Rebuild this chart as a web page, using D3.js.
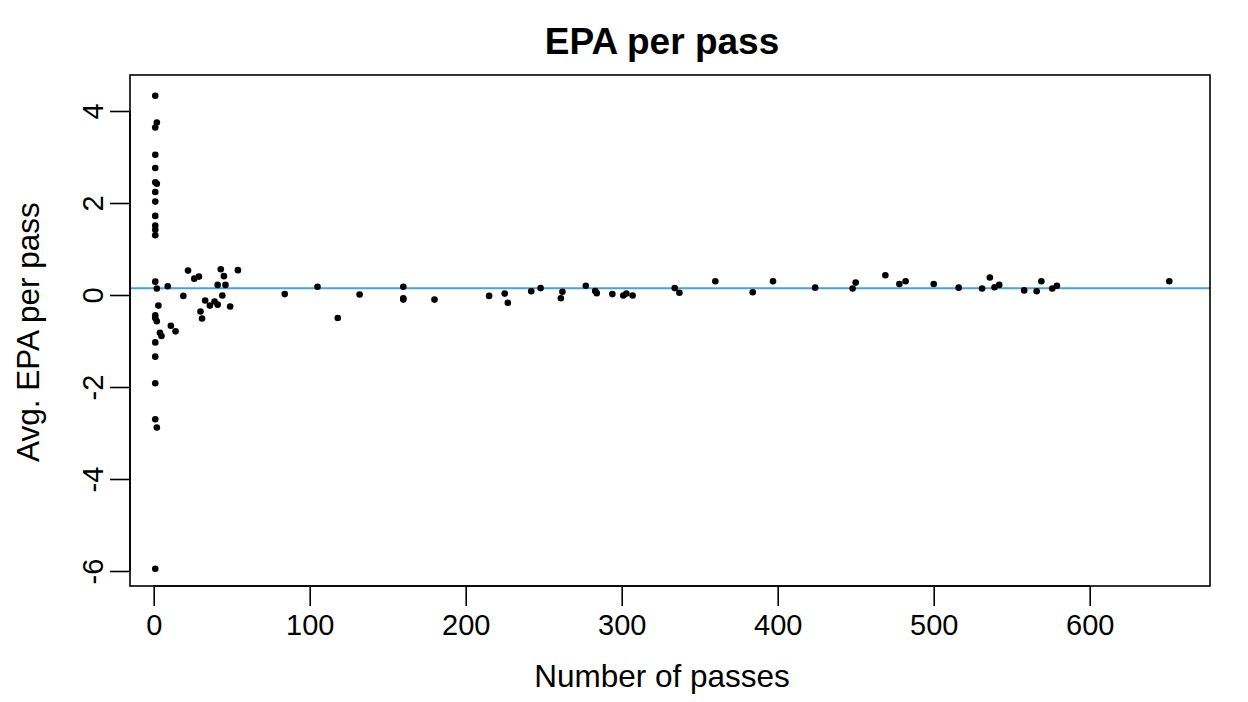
<!DOCTYPE html>
<html>
<head>
<meta charset="utf-8">
<script src="https://cdn.jsdelivr.net/npm/d3@7"></script>
<style>
  html, body { margin: 0; padding: 0; background: #fff; }
  svg { display: block; font-family: "Liberation Sans", Arial, Helvetica, sans-serif; }
</style>
</head>
<body>
<svg id="chart" width="1248" height="702"></svg>
<script>
// ---- data ----
const passes = [
  1, 2, 1, 1, 1, 1, 2, 1, 1, 1, 1, 1, 1,
  22, 43, 54, 45, 26, 29, 1, 41, 46, 2, 9, 19, 44, 3, 33, 36, 39, 41, 49, 30, 31,
  1, 1, 2, 11, 14, 4, 5, 1, 1, 1, 1, 2, 1,
  84, 105, 118, 132, 160, 160, 160, 180, 215, 225, 227, 242, 248, 262, 261, 277,
  283, 284, 294, 301, 303, 307, 334, 337, 360, 384, 397, 424, 448, 450, 469,
  478, 482, 500, 516, 531, 536, 539, 542, 558, 566, 569, 576, 579, 651
];
const epa = [
  4.33, 3.75, 3.64, 3.05, 2.76, 2.45, 2.42, 2.24, 2.03, 1.72, 1.51, 1.42, 1.30,
  0.53, 0.56, 0.54, 0.41, 0.355, 0.40, 0.29, 0.22, 0.22, 0.14, 0.19, -0.02, -0.01, -0.23, -0.12, -0.23, -0.14, -0.21, -0.25, -0.36, -0.51,
  -0.44, -0.50, -0.57, -0.67, -0.79, -0.82, -0.89, -1.03, -1.34, -1.92, -2.70, -2.88, -5.95,
  0.02, 0.18, -0.50, 0.01, 0.18, -0.07, -0.10, -0.10, -0.02, 0.03, -0.17, 0.08, 0.15, 0.07, -0.07, 0.20,
  0.085, 0.04, 0.02, -0.01, 0.03, -0.01, 0.15, 0.05, 0.30, 0.06, 0.30, 0.16, 0.14, 0.27, 0.43,
  0.24, 0.30, 0.24, 0.16, 0.14, 0.38, 0.17, 0.22, 0.10, 0.08, 0.30, 0.14, 0.20, 0.30
];
const meanLine = 0.145;
const xTicks = [0, 100, 200, 300, 400, 500, 600];
const yTicks = [-6, -4, -2, 0, 2, 4];
const titleText = "EPA per pass";
const xLabel = "Number of passes";
const yLabel = "Avg. EPA per pass";

// ---- layout ----
const box = { left: 130, right: 1210, top: 75, bottom: 586 };
const x = d3.scaleLinear().domain([0, 600]).range([153.7, 1089.7]);
const y = d3.scaleLinear().domain([-6, 4]).range([571, 111]);

const svg = d3.select("#chart");

svg.append("clipPath").attr("id", "clip")
  .append("rect").attr("x", box.left).attr("y", box.top)
  .attr("width", box.right - box.left).attr("height", box.bottom - box.top);

// mean line
svg.append("line")
  .attr("clip-path", "url(#clip)")
  .attr("x1", box.left).attr("x2", box.right)
  .attr("y1", y(meanLine)).attr("y2", y(meanLine))
  .attr("stroke", "#46a2e0").attr("stroke-width", 2);

// points
svg.append("g").selectAll("circle")
  .data(passes.map((p, i) => [p, epa[i]]))
  .join("circle")
  .attr("cx", d => x(d[0]))
  .attr("cy", d => y(d[1]))
  .attr("r", 3.3)
  .attr("fill", "#000");

// box
svg.append("rect")
  .attr("x", box.left).attr("y", box.top)
  .attr("width", box.right - box.left).attr("height", box.bottom - box.top)
  .attr("fill", "none").attr("stroke", "#000").attr("stroke-width", 1.6);

const fmt = d => String(d);

// x axis
const xAxis = d3.axisBottom(x).tickValues(xTicks).tickSize(20).tickPadding(8).tickFormat(fmt);
const gx = svg.append("g").attr("transform", `translate(0,${box.bottom})`).call(xAxis);
gx.select(".domain").attr("d", `M${x(0)},0H${x(600)}`).attr("stroke-width", 1.6);
gx.selectAll(".tick line").attr("stroke-width", 1.6);
gx.selectAll(".tick text").attr("font-size", 29).attr("fill", "#000")
  .attr("font-family", "Liberation Sans, Arial, sans-serif");

// y axis
const yAxis = d3.axisLeft(y).tickValues(yTicks).tickSize(20).tickPadding(8).tickFormat(fmt);
const gy = svg.append("g").attr("transform", `translate(${box.left},0)`).call(yAxis);
gy.select(".domain").attr("d", `M0,${y(-6)}V${y(4)}`).attr("stroke-width", 1.6);
gy.selectAll(".tick line").attr("stroke-width", 1.6);
gy.selectAll(".tick text")
  .attr("font-size", 29).attr("fill", "#000")
  .attr("font-family", "Liberation Sans, Arial, sans-serif")
  .attr("x", null).attr("dy", null)
  .attr("text-anchor", "middle")
  .attr("transform", "translate(-27,0) rotate(-90)")
  .attr("y", 0);

// titles
svg.append("text")
  .attr("x", 662).attr("y", 54)
  .attr("text-anchor", "middle")
  .attr("font-size", 37).attr("font-weight", "bold")
  .text(titleText);

svg.append("text")
  .attr("x", 662).attr("y", 687)
  .attr("text-anchor", "middle")
  .attr("font-size", 31.5)
  .text(xLabel);

svg.append("text")
  .attr("transform", `translate(39,332) rotate(-90)`)
  .attr("text-anchor", "middle")
  .attr("font-size", 31.5)
  .text(yLabel);
</script>
</body>
</html>
